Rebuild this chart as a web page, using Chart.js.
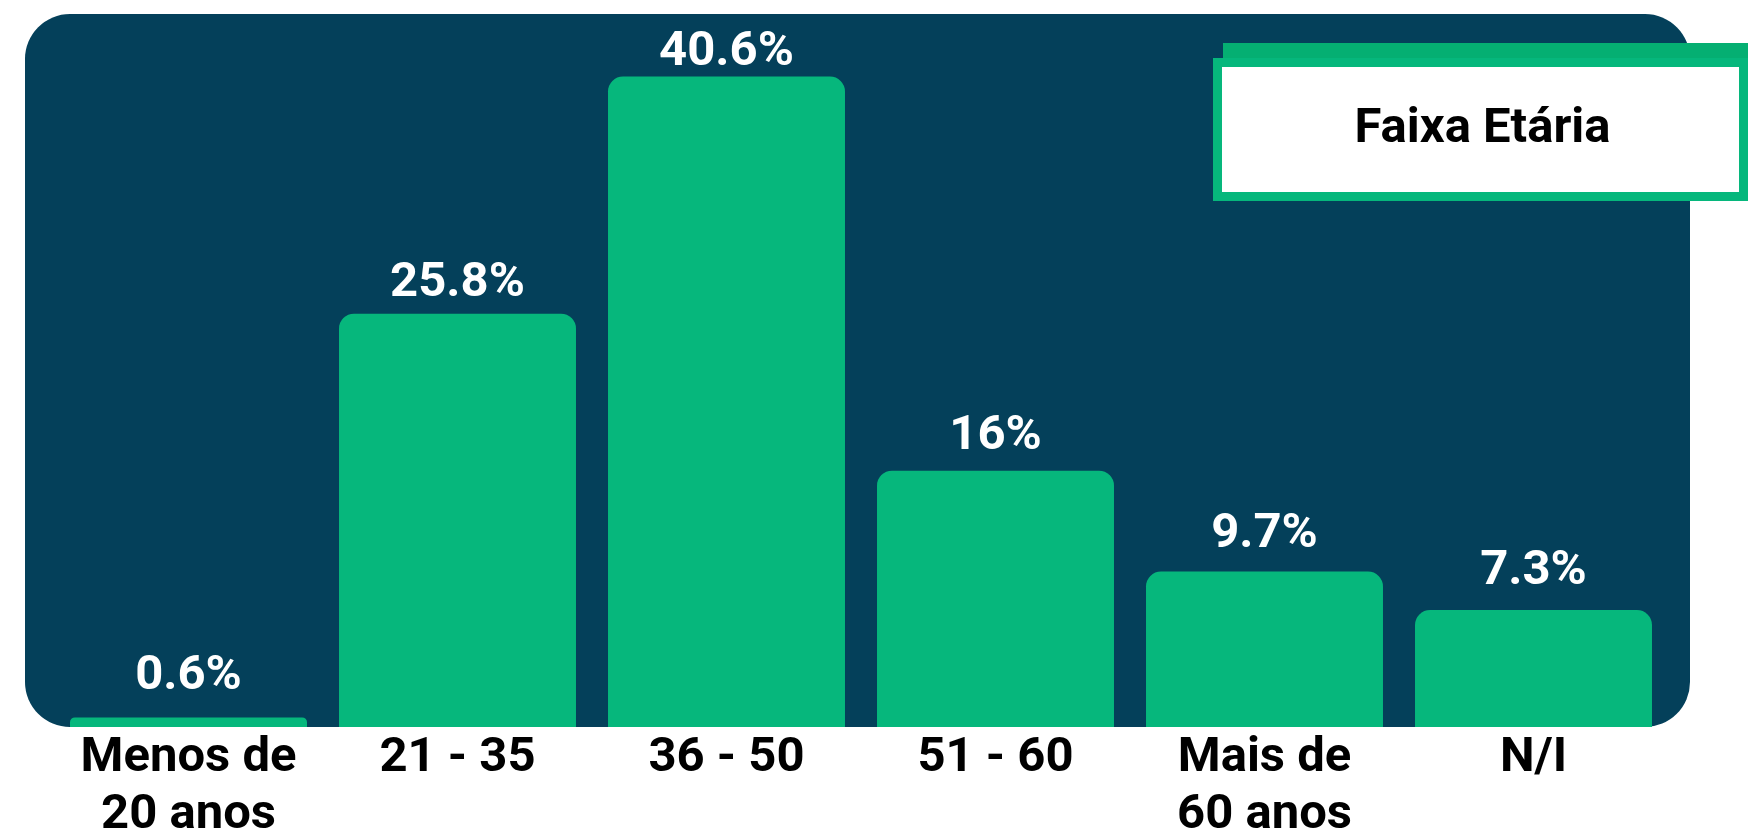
<!DOCTYPE html>
<html>
<head>
<meta charset="utf-8">
<script src="https://cdn.jsdelivr.net/npm/chart.js@4.4.0/dist/chart.umd.min.js"></script>
<style>
  html, body { margin: 0; padding: 0; background: #ffffff; }
  canvas { display: block; }
</style>
</head>
<body>
<canvas id="faixa-chart" width="1748" height="832"></canvas>
<script>
// Data
const categories = [['Menos de', '20 anos'], '21 - 35', '36 - 50', '51 - 60', ['Mais de', '60 anos'], 'N/I']
const percentages = [0.6, 25.8, 40.6, 16, 9.7, 7.3]
const chartTitle = 'Faixa Etária'

const panelColor = '#04405A'
const barColor = '#06B77C'
const shadowColor = '#05AF72'

// Dark rounded panel behind the bars
const panelPlugin = {
    id: 'panel',
    beforeDraw(chart) {
        const {ctx, chartArea} = chart
        const left = chartArea.left - 29
        const right = chartArea.right + 22
        const top = 14
        const bottom = chart.scales.y.getPixelForValue(0)
        ctx.save()
        ctx.fillStyle = panelColor
        ctx.beginPath()
        ctx.roundRect(left, top, right - left, bottom - top, 45)
        ctx.fill()
        ctx.restore()
    }
}

// Percent labels above each bar. In the original the gap grows a little as the bar gets shorter
const valueLabels = {
    id: 'valueLabels',
    afterDatasetsDraw(chart) {
        const {ctx} = chart
        const meta = chart.getDatasetMeta(0)
        ctx.save()
        ctx.font = 'bold 49px Roboto'
        ctx.fillStyle = '#ffffff'
        ctx.textAlign = 'center'
        ctx.textBaseline = 'alphabetic'
        meta.data.forEach(function(bar, i) {
            const barHeight = bar.base - bar.y
            ctx.fillText(percentages[i] + '%', bar.x, bar.base - 28.6 - 0.974 * barHeight)
        })
        ctx.restore()
    }
}

// Title box in the top right corner
const titleBox = {
    id: 'titleBox',
    afterDraw(chart) {
        const {ctx, width} = chart
        const boxLeft = 1213, boxTop = 58, boxBottom = 201
        ctx.save()
        ctx.fillStyle = shadowColor
        ctx.fillRect(boxLeft + 10, boxTop - 15, width - boxLeft - 10, 20)
        ctx.fillStyle = barColor
        ctx.fillRect(boxLeft, boxTop, width - boxLeft, boxBottom - boxTop)
        ctx.fillStyle = '#ffffff'
        ctx.fillRect(boxLeft + 9, boxTop + 9, width - boxLeft - 18, boxBottom - boxTop - 18)
        ctx.font = 'bold 49px Roboto'
        ctx.fillStyle = '#000000'
        ctx.textAlign = 'center'
        ctx.textBaseline = 'middle'
        ctx.fillText(chartTitle, (boxLeft + width) / 2 + 2, (boxTop + boxBottom) / 2)
        ctx.restore()
    }
}

let ctx = document.querySelector('#faixa-chart').getContext('2d')

let faixaChart = new Chart(ctx, {
    type: 'bar',
    data: {
        labels: categories,
        datasets: [
            {
                data: percentages,
                backgroundColor: barColor,
                borderRadius: {topLeft: 15, topRight: 15},
                borderSkipped: 'bottom',
                categoryPercentage: 1,
                barPercentage: 0.881
            }
        ]
    },
    options: {
        responsive: false,
        animation: false,
        devicePixelRatio: 1,
        layout: {padding: {left: 54, right: 80, top: 6, bottom: 0}},
        plugins: {
            legend: {display: false},
            tooltip: {enabled: false}
        },
        scales: {
            x: {
                grid: {display: false, drawTicks: false},
                border: {display: false},
                ticks: {
                    color: '#000000',
                    padding: 4,
                    font: {family: 'Roboto', weight: 'bold', size: 49, lineHeight: 1.15},
                    maxRotation: 0,
                    autoSkip: false
                },
                afterFit(scale) { scale.height = 105 }
            },
            y: {
                display: false,
                min: 0,
                max: 45
            }
        }
    },
    plugins: [panelPlugin, valueLabels, titleBox]
})
</script>
</body>
</html>
